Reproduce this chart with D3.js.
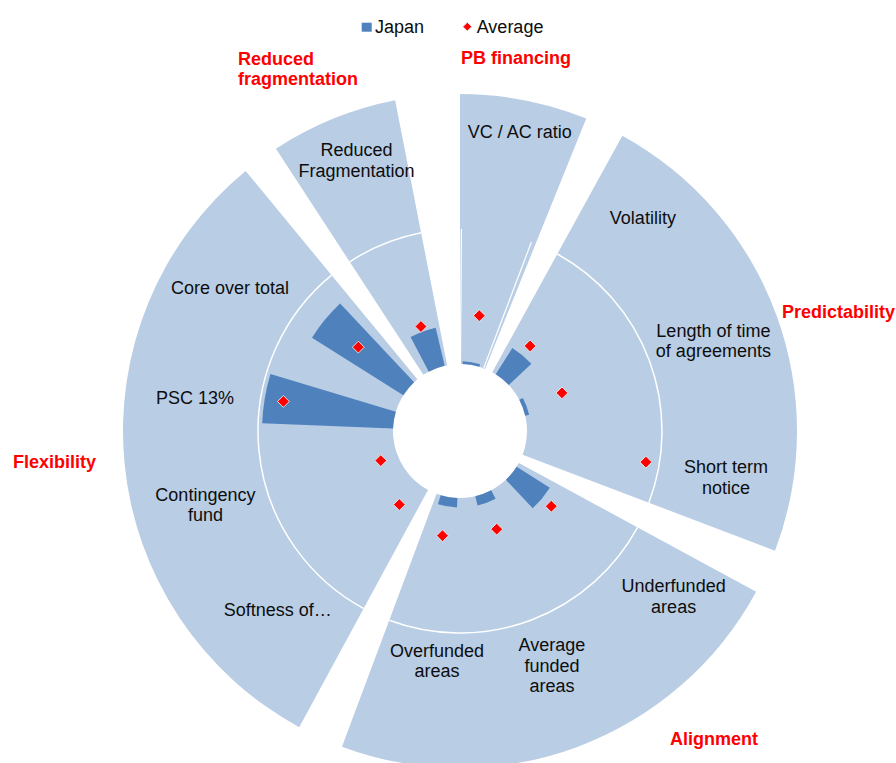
<!DOCTYPE html>
<html><head><meta charset="utf-8">
<script src="https://cdn.jsdelivr.net/npm/d3@7"></script>
<style>
body{margin:0;background:#fff}
svg{display:block}
text{font-family:"Liberation Sans",Arial,sans-serif}
</style>
</head><body>
<svg id="chart" width="896" height="763"></svg>
<script>
// ---------- data ----------
const categories = ["VC / AC ratio","Volatility","Length of time of agreements","Short term notice",
  "Underfunded areas","Average funded areas","Overfunded areas",
  "Softness of…","Contingency fund","PSC 13%","Core over total","Reduced Fragmentation"];
const categoryLines = [["VC / AC ratio"],["Volatility"],["Length of time","of agreements"],["Short term","notice"],
  ["Underfunded","areas"],["Average","funded","areas"],["Overfunded","areas"],
  ["Softness of…"],["Contingency","fund"],["PSC 13%"],["Core over total"],["Reduced","Fragmentation"]];
const groups = ["PB financing","Predictability","Alignment","Flexibility","Reduced fragmentation"];
const groupOf = ["PB financing","Predictability","Predictability","Predictability",
  "Alignment","Alignment","Alignment",
  "Flexibility","Flexibility","Flexibility","Flexibility","Reduced fragmentation"];
const japan   = [0.02,0.23,0.03,0.00,0.29,0.07,0.07,0.00,0.00,0.97,0.80,0.29];
const average = [0.37,0.32,0.31,0.90,0.38,0.28,0.29,0.21,0.13,0.83,0.48,0.33];
const seriesNames = ["Japan","Average"];

// ---------- layout ----------
const W = 896, H = 763, cx = 460, cy = 431;
const deg = Math.PI / 180;
const labelAngle  = [11.3,40.6,70.4,99.9,127.7,158.6,185.7,225.6,253.9,277.1,301.9,339.1];
const labelRadius = [305,281,269,270,270,252,231,255,265,267,271,290];
const groupShiftDeg = {"PB financing":1.5,"Predictability":0.3,"Alignment":0,"Flexibility":0,"Reduced fragmentation":-1.6};
const groupLabelLayout = {
  "PB financing":          {x:461, y:64,  anchor:"start", lines:["PB financing"]},
  "Predictability":        {x:895, y:318, anchor:"end",   lines:["Predictability"]},
  "Alignment":             {x:670, y:745, anchor:"start", lines:["Alignment"]},
  "Flexibility":           {x:13,  y:468, anchor:"start", lines:["Flexibility"]},
  "Reduced fragmentation": {x:238, y:65,  anchor:"start", lines:["Reduced","fragmentation"]}
};
const colJapan = "#4F81BD", colBg = "#B9CDE5", colAvg = "#FF0000";

const svg = d3.select("#chart");
const g = svg.append("g").attr("transform", `translate(${cx},${cy})`);

const r = d3.scaleLinear().domain([0, 1]).range([67, 202]);
const theta0 = -5.5 * deg;
const x = d3.scaleBand().domain(categories).range([theta0, theta0 + 2 * Math.PI]);
const bw = x.bandwidth();
const pad = 4 * deg;
const polar = (a, rad) => [rad * Math.sin(a), -rad * Math.cos(a)];

// group background wedges
groups.forEach(name => {
  const cats = categories.filter((c, i) => groupOf[i] === name);
  const sh = groupShiftDeg[name] * deg;
  const a0 = x(cats[0]) + pad + sh, a1 = x(cats[cats.length - 1]) + bw - pad + sh;
  g.append("path")
    .attr("d", d3.arc()({innerRadius: r(0), outerRadius: r(2), startAngle: a0, endAngle: a1}))
    .attr("fill", colBg);
  if (name !== "PB financing") {
    const p = d3.path();
    p.arc(0, 0, r(1), a0 - Math.PI / 2, a1 - Math.PI / 2);
    g.append("path").attr("d", p.toString()).attr("fill", "none")
      .attr("stroke", "#fff").attr("stroke-width", 1.5);
  } else {
    // faint inner outline lines seen in this sector
    [a0 + 0.4 * deg, a1 - 1.3 * deg].forEach(a => {
      g.append("path")
        .attr("d", d3.lineRadial()([[a, r(0)], [a, r(1)]]))
        .attr("stroke", "#fff").attr("stroke-width", 1.2).attr("fill", "none");
    });
  }
});

// Japan bars
const barArc = d3.arc()
  .innerRadius(r(0))
  .outerRadius(d => r(d.v))
  .startAngle(d => x(d.c) + bw * 0.258)
  .endAngle(d => x(d.c) + bw * 0.742);
g.selectAll("path.bar")
  .data(categories.map((c, i) => ({c, v: japan[i]})).filter(d => d.v > 0))
  .join("path").attr("class", "bar")
  .attr("d", barArc).attr("fill", colJapan);

// Average diamonds
const diamond = d3.symbol().type(d3.symbolSquare).size(70);
g.selectAll("path.avg")
  .data(categories.map((c, i) => ({c, v: average[i]})))
  .join("path").attr("class", "avg")
  .attr("d", diamond)
  .attr("transform", d => {
    const [px, py] = polar(x(d.c) + bw / 2, r(d.v));
    return `translate(${px},${py}) rotate(45)`;
  })
  .attr("fill", colAvg).attr("stroke", "#f2f2f2").attr("stroke-width", 0.8);

// Category labels
const lh = 20.5;
categoryLines.forEach((lines, i) => {
  const [px, py] = polar(labelAngle[i] * deg, labelRadius[i]);
  const t = g.append("text").attr("text-anchor", "middle")
    .attr("font-size", 18).attr("fill", "#0d0d0d");
  lines.forEach((ln, j) => {
    t.append("tspan").attr("x", px)
      .attr("y", py - (lines.length - 1) * lh / 2 + 6.3 + j * lh)
      .text(ln);
  });
});

// Group labels (red)
groups.forEach(name => {
  const L = groupLabelLayout[name];
  const t = svg.append("text").attr("text-anchor", L.anchor)
    .attr("font-size", 18).attr("font-weight", "bold").attr("fill", colAvg);
  L.lines.forEach((ln, j) => {
    t.append("tspan").attr("x", L.x).attr("y", L.y + j * 20).text(ln);
  });
});

// Legend
const leg = svg.append("g");
leg.append("rect").attr("x", 361.7).attr("y", 22.7).attr("width", 10).attr("height", 9).attr("fill", colJapan);
leg.append("text").attr("x", 375).attr("y", 32.5).attr("font-size", 18).attr("fill", "#0d0d0d").text(seriesNames[0]);
leg.append("path").attr("d", d3.symbol().type(d3.symbolSquare).size(38)())
  .attr("transform", "translate(467.3,26.7) rotate(45)")
  .attr("fill", colAvg).attr("stroke", "#e8e8e8").attr("stroke-width", 0.8);
leg.append("text").attr("x", 476.7).attr("y", 32.5).attr("font-size", 18).attr("fill", "#0d0d0d").text(seriesNames[1]);
</script>
</body></html>
